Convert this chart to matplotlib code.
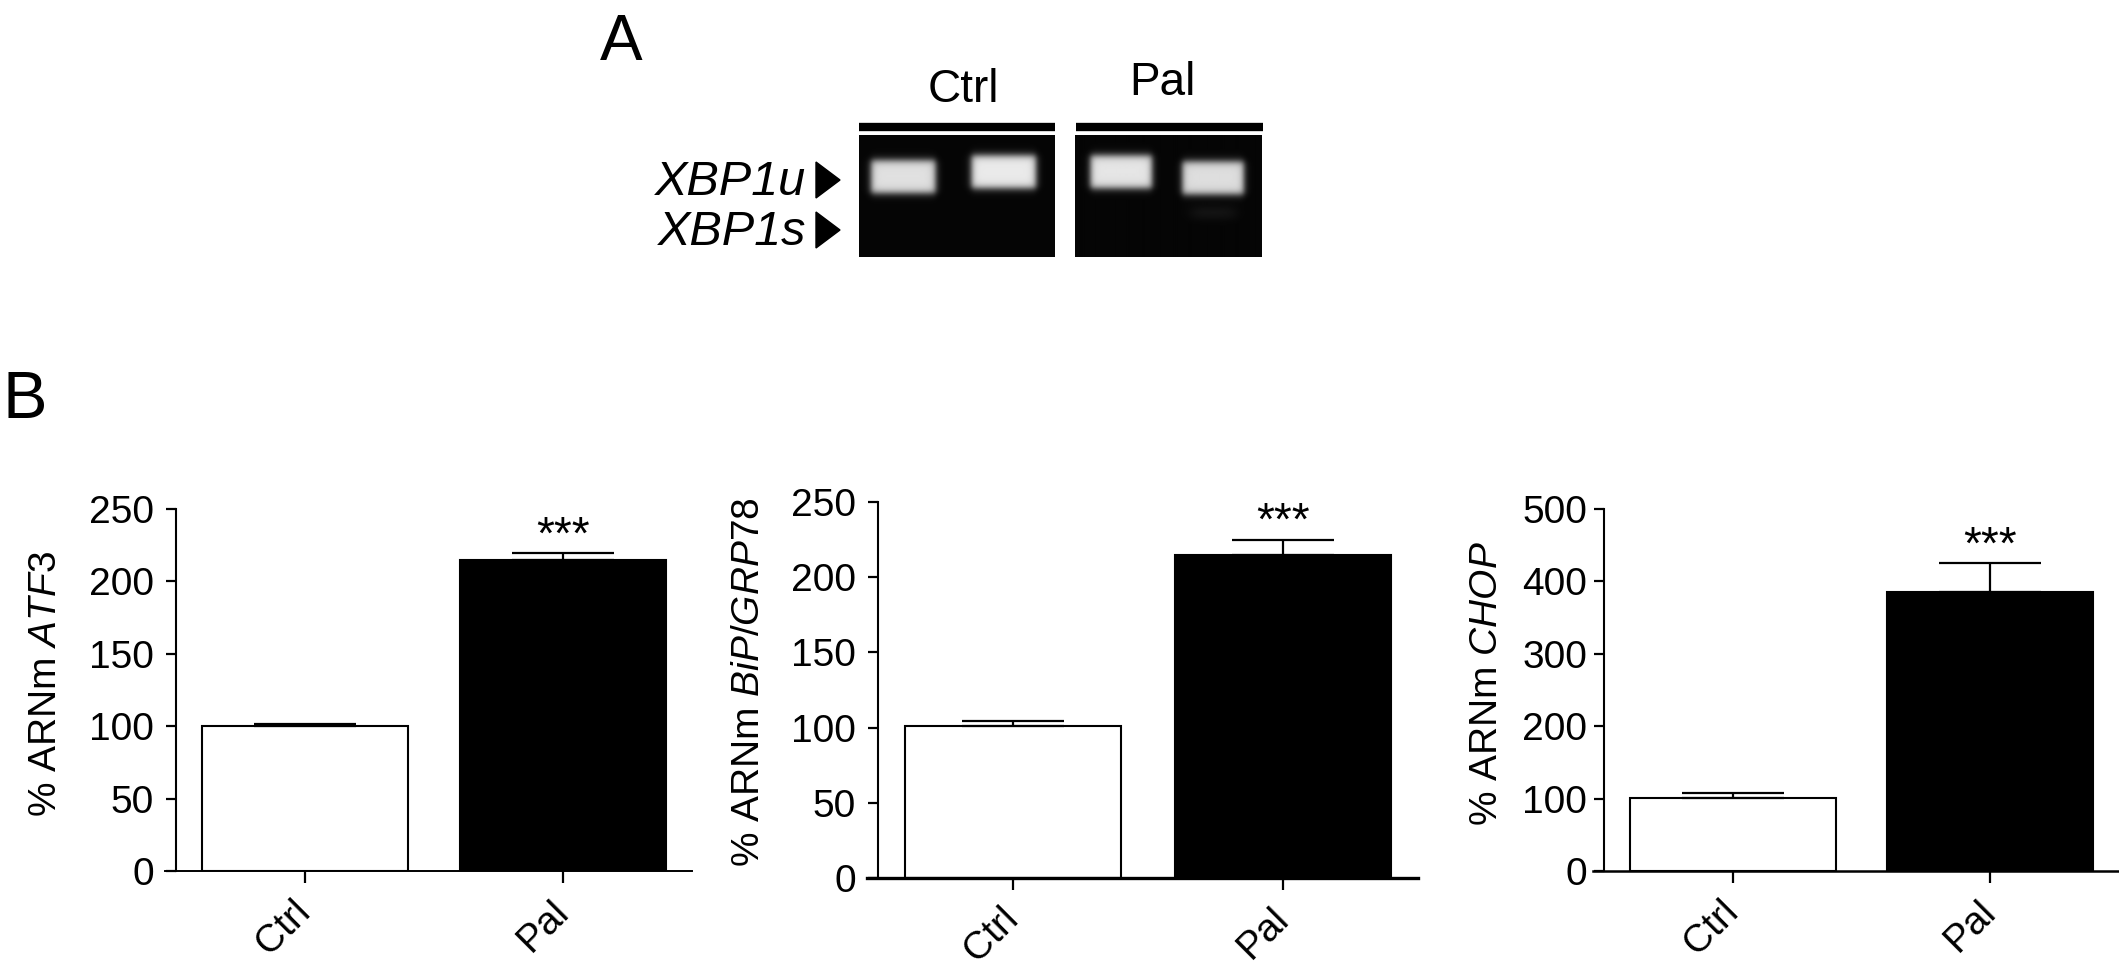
import numpy as np
import matplotlib
matplotlib.use("Agg")
import matplotlib.pyplot as plt
from matplotlib.patches import Polygon

plt.rcParams['font.family'] = ['Liberation Sans', 'DejaVu Sans']
plt.rcParams['mathtext.fontset'] = 'custom'
plt.rcParams['mathtext.rm'] = 'Liberation Sans'
plt.rcParams['mathtext.it'] = 'Liberation Sans:italic'

# donnees
groups = ['Ctrl', 'Pal']
genes = ['ATF3', 'BiP/GRP78', 'CHOP']
atf3_mean = [100, 215]
atf3_sem = [1.5, 4.5]
bip_mean = [101, 215]
bip_sem = [3.5, 10]
chop_mean = [101, 385]
chop_sem = [7, 40]
y_max = [250, 250, 500]
y_step = [50, 50, 100]
signif = ['', '***']

# gel XBP1 : intensite des bandes par puits (Ctrl, Ctrl | Pal, Pal)
xbp1u_ctrl = [0.86, 0.9]
xbp1s_ctrl = [0.0, 0.0]
xbp1u_pal = [0.88, 0.85]
xbp1s_pal = [0.0, 0.06]

W, H = 2119, 975
fig = plt.figure(figsize=(W / 100, H / 100), dpi=100)


def px_axes(x0, y0, x1, y1):
    return fig.add_axes([x0 / W, 1 - y1 / H, (x1 - x0) / W, (y1 - y0) / H])


def soft(v, c, h, edge):
    return 1.0 / (1.0 + np.exp((np.abs(v - c) - h) / edge))


def gel(ax, u_vals, s_vals, lane_x, u_y, s_y):
    nr, nc = 122, 196
    yy, xx = np.mgrid[0:1:nr * 1j, 0:1:nc * 1j]
    img = np.full((nr, nc), 0.02)
    for i in range(len(u_vals)):
        img += u_vals[i] * soft(xx, lane_x[i], 0.165, 0.01) * soft(yy, u_y[i], 0.135, 0.018)
        img += s_vals[i] * soft(xx, lane_x[i], 0.12, 0.02) * soft(yy, s_y, 0.05, 0.02)
    ax.imshow(np.clip(img, 0, 1), cmap='gray', vmin=0, vmax=1, aspect='auto',
              extent=(0, 1, 1, 0), interpolation='bilinear')
    ax.set_axis_off()


# ---- panneau A ----
ov = fig.add_axes([0, 0, 1, 1])
ov.set_xlim(0, W)
ov.set_ylim(H, 0)
ov.set_axis_off()

ov.text(600, 60, 'A', fontsize=46, ha='left', va='baseline')
ov.text(3, 418, 'B', fontsize=48, ha='left', va='baseline')

g1 = px_axes(859, 135, 1055, 257)
gel(g1, xbp1u_ctrl, xbp1s_ctrl, [0.225, 0.74], [0.34, 0.3], 0.64)
g2 = px_axes(1075, 135, 1262, 257)
gel(g2, xbp1u_pal, xbp1s_pal, [0.246, 0.74], [0.3, 0.35], 0.64)

ov.plot([859, 1055], [127, 127], color='black', lw=6, solid_capstyle='butt')
ov.plot([1076, 1263], [127, 127], color='black', lw=6, solid_capstyle='butt')
ov.text(963, 102, groups[0], fontsize=33, ha='center', va='baseline')
ov.text(1162, 95, groups[1], fontsize=33, ha='center', va='baseline')

ov.text(806, 195, 'XBP1u', fontsize=35, style='italic', ha='right', va='baseline')
ov.text(806, 245, 'XBP1s', fontsize=35, style='italic', ha='right', va='baseline')
ov.add_patch(Polygon([(816, 162), (840, 180), (816, 198)], closed=True, color='black'))
ov.add_patch(Polygon([(816, 212), (840, 230), (816, 248)], closed=True, color='black'))

# ---- panneau B ----
means = [atf3_mean, bip_mean, chop_mean]
sems = [atf3_sem, bip_sem, chop_sem]
boxes = [(165, 509, 692, 871, 258, 1.4),
         (867, 502, 1418, 878, 270, 2.4),
         (1593, 509, 2119, 871, 258, 1.8)]
ylab_pos = [(46, 684), (749, 682), (1487, 684)]
ypads = [9, 9, 5]

x = np.arange(len(groups))
for i in range(3):
    x0, y0, x1, y1, unit, xw = boxes[i]
    ax = px_axes(x0, y0, x1, y1)
    ax.bar(x, means[i], width=0.8, color=['white', 'black'], edgecolor='black',
           linewidth=1.5, zorder=2)
    ax.errorbar(x, means[i], yerr=[np.zeros(2), sems[i]], fmt='none', ecolor='black',
                elinewidth=1.6, capsize=37, capthick=1.6, zorder=3)
    ax.set_xlim(-0.5 - 11 / unit, 1.5)
    ax.set_ylim(0, y_max[i])
    ax.spines['left'].set_position(('data', -0.5))
    ax.spines['right'].set_visible(False)
    ax.spines['top'].set_visible(False)
    ax.spines['left'].set_linewidth(1.5)
    ax.spines['bottom'].set_linewidth(xw)
    ax.set_yticks(np.arange(0, y_max[i] + 1, y_step[i]))
    ax.set_xticks(x)
    ax.set_xticklabels(groups, rotation=45, ha='right', va='center',
                       rotation_mode='anchor')
    ax.tick_params(axis='y', length=7, width=1.6, labelsize=28, pad=ypads[i])
    ax.tick_params(axis='x', length=8.5, width=1.6, labelsize=28, pad=17)
    for j in range(len(groups)):
        if signif[j]:
            ax.annotate(signif[j], xy=(x[j], means[i][j] + sems[i][j]),
                        xytext=(0, -4), textcoords='offset points',
                        ha='center', va='bottom', fontsize=33)
    ov.text(ylab_pos[i][0], ylab_pos[i][1], '% ARNm $\\mathit{' + genes[i] + '}$',
            fontsize=28, rotation=90, ha='center', va='center')

fig.savefig('out.png', dpi=100)
